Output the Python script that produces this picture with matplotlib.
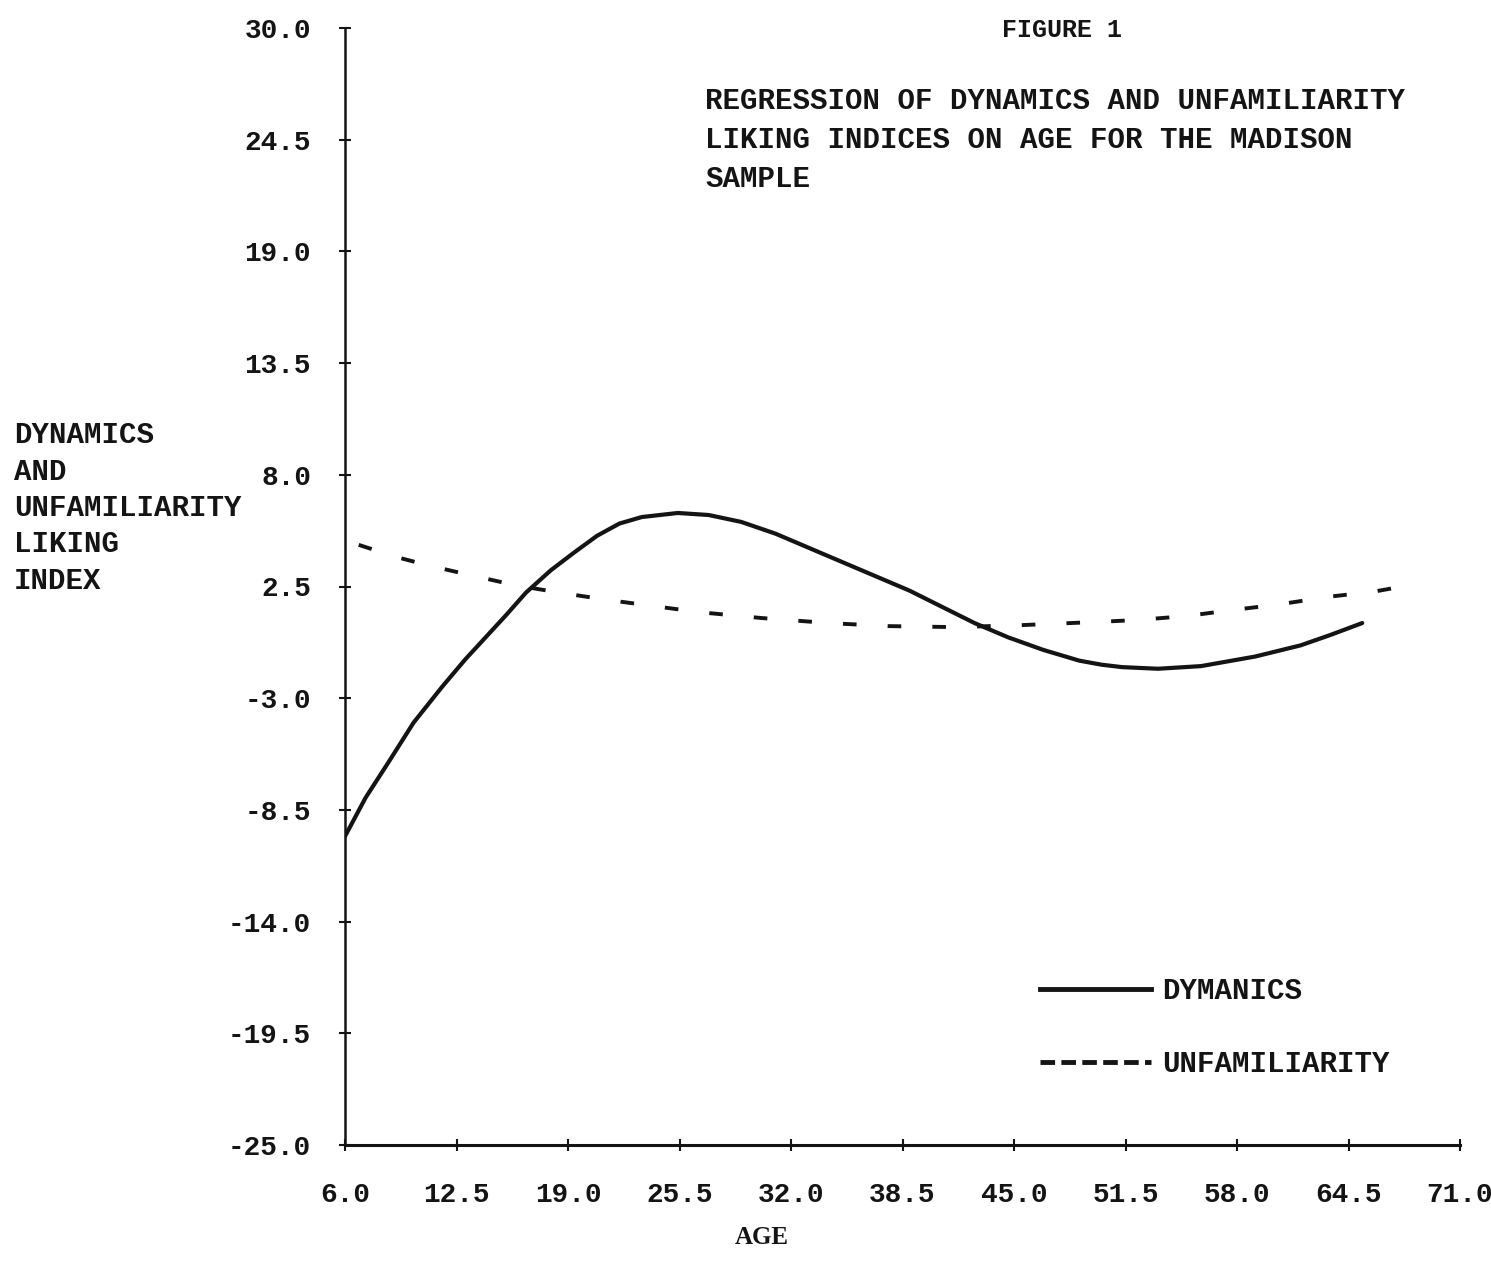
import matplotlib.pyplot as plt
from matplotlib.lines import Line2D

# values
age_dyn = [6.0, 7.2, 8.5, 10.0, 11.65, 13.0, 14.2, 15.4, 16.55, 18.0, 19.4, 20.7,
           22.0, 23.3, 25.4, 27.2, 29.1, 31.1, 34.3, 38.9, 42.7, 44.65, 46.7,
           48.8, 50.1, 51.3, 53.4, 55.9, 59.05, 61.7, 63.4, 65.3]
dynamics = [-9.8, -7.9, -6.2, -4.2, -2.45, -1.1, 0.0, 1.1, 2.2, 3.3, 4.2, 5.0,
            5.6, 5.92, 6.12, 6.02, 5.68, 5.1, 3.95, 2.3, 0.7, 0.0, -0.62,
            -1.15, -1.35, -1.47, -1.55, -1.42, -0.95, -0.4, 0.1, 0.7]

age_unf = [6.8, 9.0, 10.8, 13.35, 16.0, 18.5, 21.2, 25.2, 27.1, 30.25, 34.2,
           37.65, 41.6, 45.5, 49.7, 52.2, 55.1, 57.8, 60.3, 63.4, 66.0, 68.3]
unfamiliarity = [4.55, 3.95, 3.55, 3.05, 2.55, 2.2, 1.85, 1.4, 1.2, 0.95, 0.7,
                 0.55, 0.5, 0.6, 0.75, 0.85, 1.05, 1.35, 1.6, 2.0, 2.25, 2.6]

x_ticks = [6.0, 12.5, 19.0, 25.5, 32.0, 38.5, 45.0, 51.5, 58.0, 64.5, 71.0]
y_ticks = [30.0, 24.5, 19.0, 13.5, 8.0, 2.5, -3.0, -8.5, -14.0, -19.5, -25.0]

title_lines = ["REGRESSION OF DYNAMICS AND UNFAMILIARITY",
               "LIKING INDICES ON AGE FOR THE MADISON",
               "SAMPLE"]
ylabel_lines = ["DYNAMICS", "AND", "UNFAMILIARITY", "LIKING", "INDEX"]

INK = "#141414"
MONO = "Liberation Mono"
W, H = 1491, 1280

fig = plt.figure(figsize=(W / 100, H / 100), dpi=100)
ax = fig.add_axes([345 / W, 1 - 1145 / H, (1460 - 345) / W, (1145 - 28) / H])

ax.plot(age_dyn, dynamics, color=INK, lw=3.0, solid_capstyle="round",
        solid_joinstyle="round")
ax.plot(age_unf, unfamiliarity, color=INK, lw=2.8, dashes=(3.5, 8))

ax.set_xlim(6.0, 71.0)
ax.set_ylim(-25.0, 30.0)
ax.set_xticks(x_ticks, labels=[f"{v:.1f}" for v in x_ticks])
ax.set_yticks(y_ticks, labels=[f"{v:.1f}" for v in y_ticks])
ax.tick_params(direction="inout", length=9, width=1.5, colors=INK,
               labelsize=20)
ax.tick_params(axis="y", pad=20)
ax.tick_params(axis="x", pad=22)
for lab in ax.get_xticklabels() + ax.get_yticklabels():
    lab.set_family(MONO)
    lab.set_weight("bold")

for side in ["top", "right"]:
    ax.spines[side].set_visible(False)
ax.spines["left"].set_linewidth(1.8)
ax.spines["bottom"].set_linewidth(2.2)
ax.spines["left"].set_color(INK)
ax.spines["bottom"].set_color(INK)

# legend
handles = [Line2D([], [], color=INK, lw=3.5),
           Line2D([], [], color=INK, lw=3.5, dashes=(3, 1.3))]
ax.legend(handles, ["DYMANICS", "UNFAMILIARITY"], loc="upper left",
          bbox_to_anchor=(1040 / W, 1 - 977 / H), bbox_transform=fig.transFigure,
          frameon=False, borderpad=0, borderaxespad=0, handlelength=3.8,
          handletextpad=0.4, labelspacing=1.55,
          prop={"family": MONO, "size": 21, "weight": "bold"}, labelcolor=INK)

# figure texts
fig.text(1062 / W, 1 - 30 / H, "FIGURE 1", ha="center", va="center",
         family=MONO, size=18, weight="bold", color=INK)
for i, line in enumerate(title_lines):
    fig.text(705 / W, 1 - (101 + 39 * i) / H, line, ha="left", va="center",
             family=MONO, size=21, weight="bold", color=INK)
for i, line in enumerate(ylabel_lines):
    fig.text(14 / W, 1 - (435 + 36.5 * i) / H, line, ha="left", va="center",
             family=MONO, size=21, weight="bold", color=INK)
fig.text(762 / W, 1 - 1238 / H, "AGE", ha="center", va="center",
         family="Liberation Serif", size=18, weight="bold", color=INK)

fig.savefig("out.png", dpi=100, facecolor="white")
